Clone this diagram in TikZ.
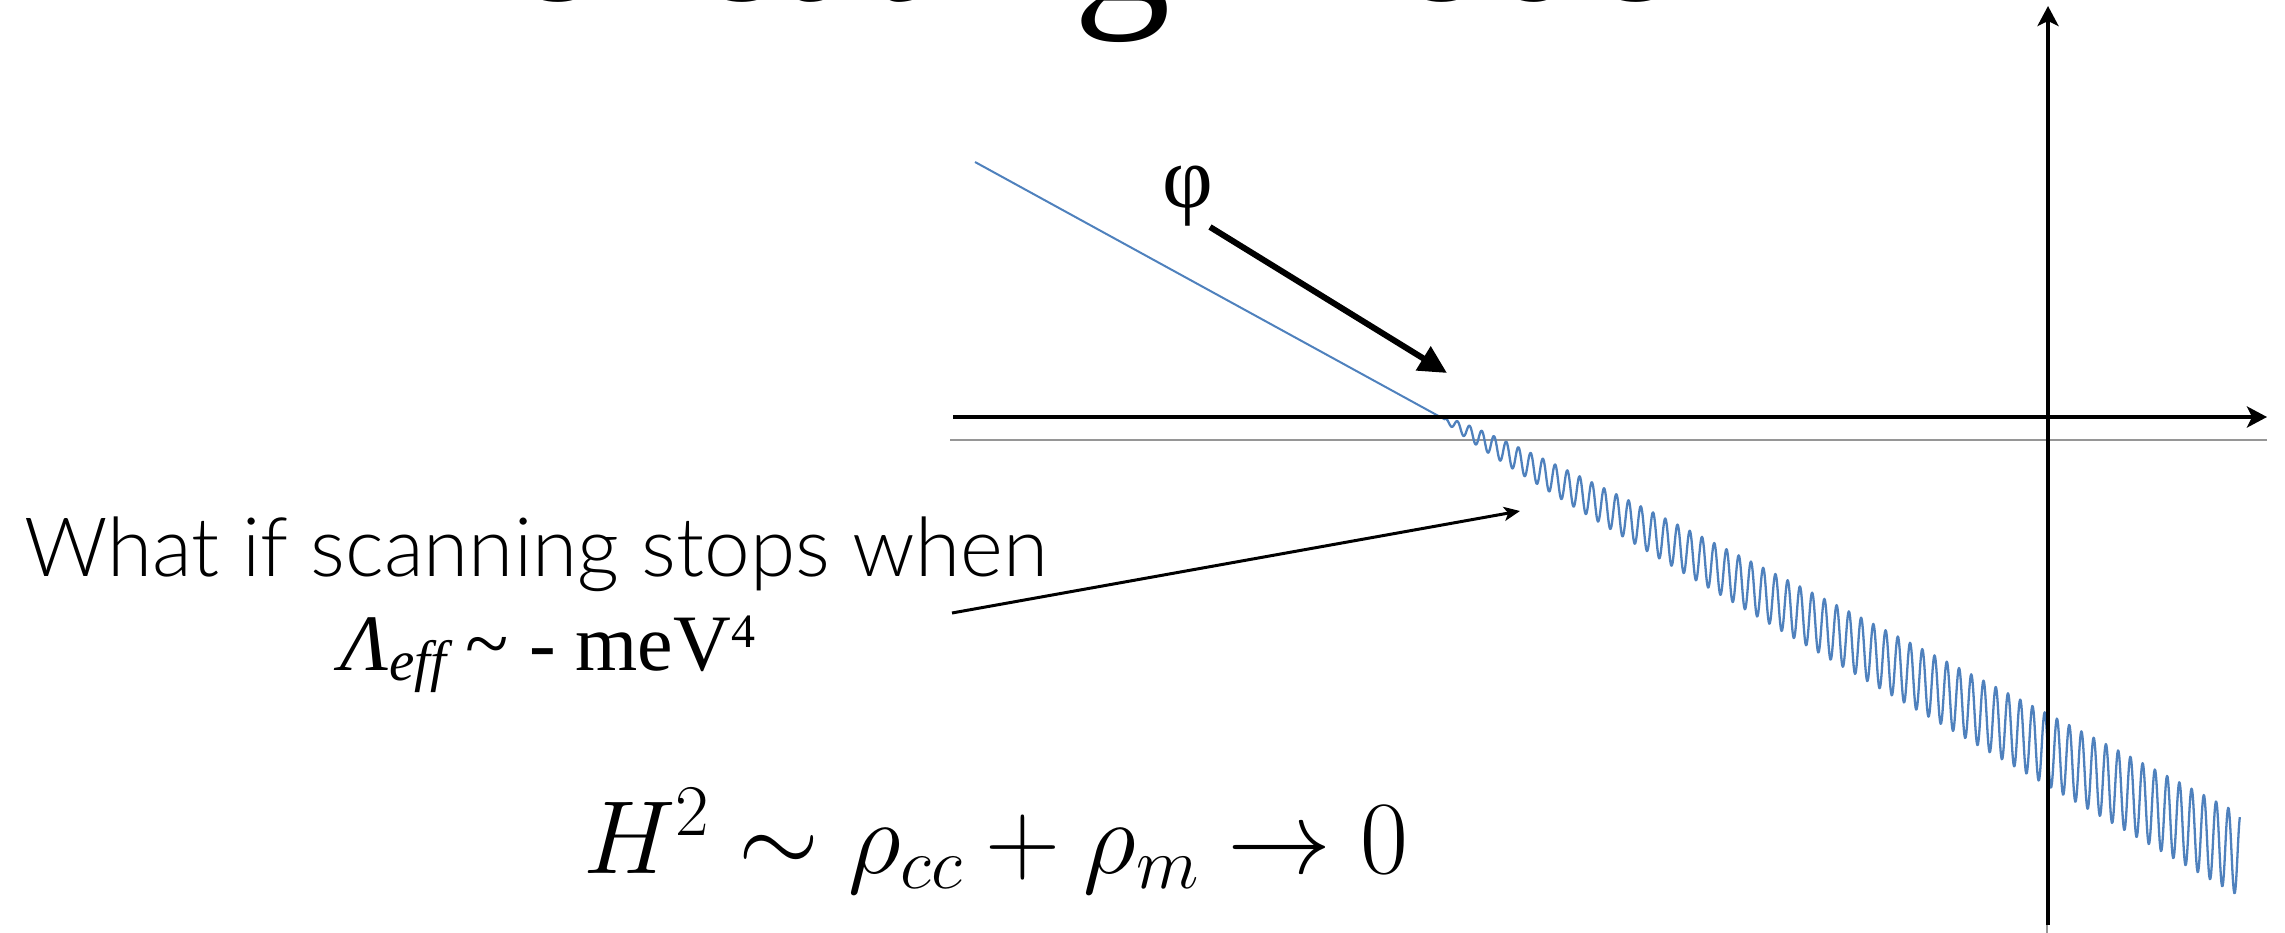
\documentclass[tikz,border=0pt]{standalone}
\usepackage{fix-cm}
\usepackage{fontspec}
\setmainfont{Liberation Serif}
\newfontfamily\lightsans{Lato Light}
\newfontfamily\serifgr{Liberation Serif}
\usetikzlibrary{arrows.meta}
\definecolor{curveblue}{RGB}{79,129,189}
\definecolor{axisgray}{RGB}{150,150,150}
\begin{document}
\begin{tikzpicture}[x=1pt,y=-1pt,
  axisline/.style={line width=4pt,-{Stealth[length=20pt,width=21pt,inset=5pt]}},
  thinaxis/.style={draw=axisgray,line width=1.3pt},
  curve/.style={draw=curveblue,line width=2.3pt,line join=round},
  phiarrow/.style={line width=6pt,-{Triangle[length=28pt,width=27pt]}},
  pointer/.style={line width=3pt,-{Stealth[length=16pt,width=14pt,inset=4pt]}},
  txt/.style={inner sep=0pt}]
\useasboundingbox (0,0) rectangle (2285,933);
% title (cut off at top)
\node[txt,anchor=base west] (title) at (380,1) {\fontsize{195}{210}\selectfont Reheating Model};
% coordinates
\coordinate (gl) at (950,440);
\coordinate (gr) at (2267,440);
\coordinate (gb) at (2047,933);
\coordinate (gt) at (2047,440);
\coordinate (xl) at (953,417);
\coordinate (xr) at (2267,417);
\coordinate (yb) at (2048,925);
\coordinate (yt) at (2048,6);
\coordinate (cs) at (975,162);
\coordinate (ce) at (1445,419.56);
\coordinate (pa) at (1210,227);
\coordinate (pb) at (1447,373);
\coordinate (qa) at (952,613);
\coordinate (qb) at (1520,511);
% thin gray plot axes
\draw[thinaxis] (gl) -- (gr);
\draw[thinaxis] (gt) -- (gb);
% potential curve
\draw[curve,line width=2pt] (cs) -- (ce);
\draw[curve] plot[domain=-3:61.95,samples=1300]
  ({1481.7+12.24*\x},{162+0.548*(1481.7+12.24*\x-975)-1.47*sqrt(max(1481.7+12.24*\x-1445,0))*cos(360*mod(\x,1))});
% black axes
\draw[axisline] (xl) -- (xr);
\draw[axisline] (yb) -- (yt);
% phi label and arrow
\node[txt,anchor=base] (phi) at (1188,208) {\serifgr\fontsize{88}{100}\selectfont φ};
\draw[phiarrow] (pa) -- (pb);
% question text
\node[txt,anchor=base west] (q) at (24,576) {\lightsans\fontsize{82}{98}\selectfont What if scanning stops when};
\node[txt,anchor=base] (lam) at (548,670) {\serifgr\fontsize{80}{96}\selectfont\textit{Λ}\raisebox{-10pt}{\fontsize{57}{64}\selectfont\textit{eff}}\,\char"7E\ - meV\raisebox{23pt}{\fontsize{48}{54}\selectfont 4}};
\draw[pointer] (qa) -- (qb);
% formula
\node[txt,anchor=base west] (h2) at (583,873) {\fontsize{104}{125}\selectfont $H^2\sim\rho_{cc}+\rho_m\to0$};
\end{tikzpicture}
\end{document}
